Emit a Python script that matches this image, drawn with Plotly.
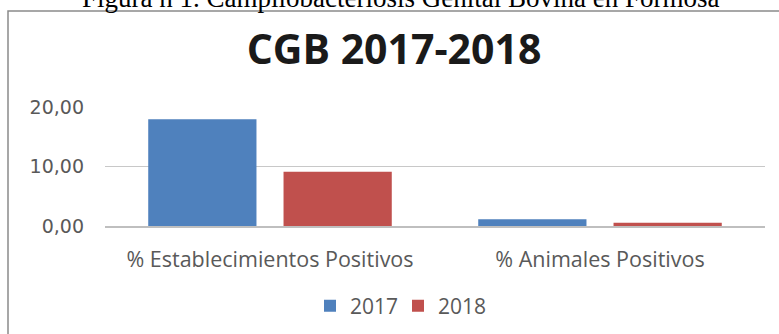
import plotly.graph_objects as go

categories = ["% Establecimientos Positivos", "% Animales Positivos"]
series_names = ["2017", "2018"]
values_2017 = [17.93, 1.12]
values_2018 = [9.13, 0.56]
y_tick_values = [0, 10, 20]

colors = ["#4f81bd", "#c0504d"]

W, H = 779, 334
L, R, T, B = 105, 14, 107, 108
pw, ph = W - L - R, H - T - B

def px_x(px):
    return (px - L) / pw

def px_y(py):
    return (H - B - py) / ph

fig = go.Figure()
for name, vals, col in zip(series_names, [values_2017, values_2018], colors):
    fig.add_trace(go.Bar(x=categories, y=vals, name=name, marker=dict(color=col, line=dict(width=0))))

fig.update_layout(
    width=W, height=H,
    margin=dict(l=L, r=R, t=T, b=B, autoexpand=False),
    paper_bgcolor="white", plot_bgcolor="white",
    separators=",.",
    barmode="group", bargap=0.18, bargroupgap=0.2,
    font=dict(family="Open Sans", size=21, color="#595959"),
    title=dict(text="<b>CGB 2017-2018</b>", x=394 / W, xanchor="center",
               y=1 - 50 / H, yanchor="middle", yref="container",
               font=dict(family="Open Sans", size=41, color="#1a1a1a")),
    showlegend=True,
    legend=dict(orientation="h", x=px_x(398), xanchor="center", y=px_y(306), yanchor="middle",
                entrywidth=43, entrywidthmode="pixels",
                font=dict(size=21, color="#595959"), bgcolor="rgba(0,0,0,0)"),
    xaxis=dict(showgrid=False, showline=True, linecolor="#bfbfbf", linewidth=1.5, ticks="",
               ticklabelstandoff=13, tickfont=dict(size=21.5)),
    yaxis=dict(range=[0, 20], tickvals=y_tick_values, tickformat=".2f", showgrid=True,
               gridcolor="#c8c8c8", gridwidth=1.2, zeroline=False, showline=False, ticks="",
               ticklabelstandoff=20, tickfont=dict(family="DejaVu Sans", size=19, color="#595959")),
    shapes=[
        dict(type="rect", xref="paper", yref="paper", x0=px_x(8), x1=px_x(790), y0=px_y(11), y1=px_y(345),
             line=dict(color="#8a8a8a", width=1.5), fillcolor="rgba(0,0,0,0)", layer="below"),
    ],
    annotations=[
        dict(text="Figura n 1. Campilobacteriosis Genital Bovina en Formosa", xref="paper", yref="paper",
             x=px_x(400), y=px_y(15), xanchor="center", yanchor="bottom", showarrow=False,
             font=dict(family="Liberation Serif", size=27, color="#000000")),
    ],
)

fig.write_html("out.html", config={"displayModeBar": False},
               post_script="document.body.style.margin='0px';")
